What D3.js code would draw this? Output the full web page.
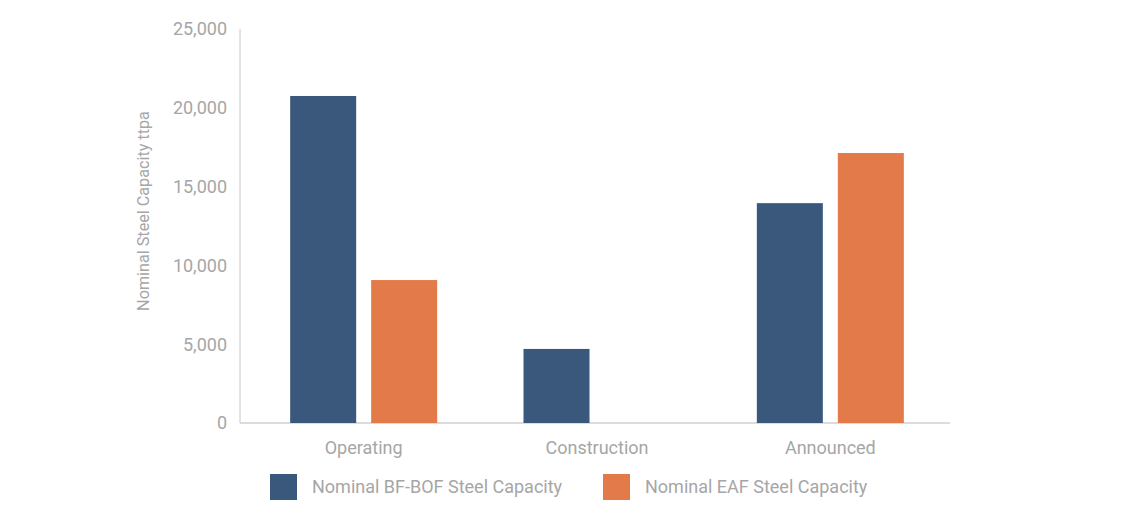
<!DOCTYPE html>
<html>
<head>
<meta charset="utf-8">
<script src="https://cdn.jsdelivr.net/npm/d3@7"></script>
<style>
  body { margin: 0; background: #fff; }
  svg text { font-family: Roboto, "Noto Sans", sans-serif; fill: #a6a6a6; }
</style>
</head>
<body>
<svg id="chart" width="1126" height="514"></svg>
<script>
const categories = ["Operating", "Construction", "Announced"];
const seriesNames = ["Nominal BF-BOF Steel Capacity", "Nominal EAF Steel Capacity"];
const bfBof = [20750, 4700, 13950];
const eaf = [9070, 0, 17130];
const yTicks = [0, 5000, 10000, 15000, 20000, 25000];
const colors = ["#3a587c", "#e37a4a"];

const rows = categories.map((c, i) => ({ cat: c, values: [bfBof[i], eaf[i]] }));

const svg = d3.select("#chart");
const plotTop = 29, plotBottom = 423, axisX = 240, axisEnd = 950;

const y = d3.scaleLinear().domain([0, 25000]).range([plotBottom, plotTop]);
const x0 = d3.scaleBand().domain(categories).range([247, 947])
  .paddingInner(0.37).paddingOuter(0.185);
const x1 = d3.scaleBand().domain([0, 1]).range([0, x0.bandwidth()])
  .paddingInner(0.185).paddingOuter(0);

// axes lines
svg.append("line").attr("x1", axisX).attr("x2", axisX).attr("y1", plotTop).attr("y2", plotBottom)
  .attr("stroke", "#c8c8c8").attr("stroke-width", 1);
svg.append("line").attr("x1", axisX).attr("x2", axisEnd).attr("y1", plotBottom).attr("y2", plotBottom)
  .attr("stroke", "#d0d0d0").attr("stroke-width", 1.5);

// y tick labels
svg.append("g").selectAll("text").data(yTicks).join("text")
  .attr("x", 227).attr("y", d => y(d)).attr("dy", "0.35em")
  .attr("text-anchor", "end").style("font-size", "18px")
  .text(d => d3.format(",")(d));

// y title
svg.append("text")
  .attr("transform", "translate(149,211) rotate(-90)")
  .attr("text-anchor", "middle").style("font-size", "16.2px")
  .text("Nominal Steel Capacity ttpa");

// bars
const groups = svg.append("g").selectAll("g").data(rows).join("g")
  .attr("transform", d => `translate(${x0(d.cat)},0)`);
groups.selectAll("rect").data(d => d.values.map((v, i) => ({ v, i })).filter(e => e.v > 0))
  .join("rect")
  .attr("x", d => x1(d.i)).attr("width", x1.bandwidth())
  .attr("y", d => y(d.v)).attr("height", d => plotBottom - y(d.v))
  .attr("fill", d => colors[d.i]);

// category labels
svg.append("g").selectAll("text").data(categories).join("text")
  .attr("x", d => x0(d) + x0.bandwidth() / 2).attr("y", 454)
  .attr("text-anchor", "middle").style("font-size", "18px")
  .text(d => d);

// legend
const legendX = [270, 603];
const leg = svg.append("g").selectAll("g").data(seriesNames).join("g")
  .attr("transform", (d, i) => `translate(${legendX[i]},474)`);
leg.append("rect").attr("width", 27).attr("height", 26).attr("fill", (d, i) => colors[i]);
leg.append("text").attr("x", 42).attr("y", 13).attr("dy", "0.35em")
  .style("font-size", "18px").text(d => d);
</script>
</body>
</html>
